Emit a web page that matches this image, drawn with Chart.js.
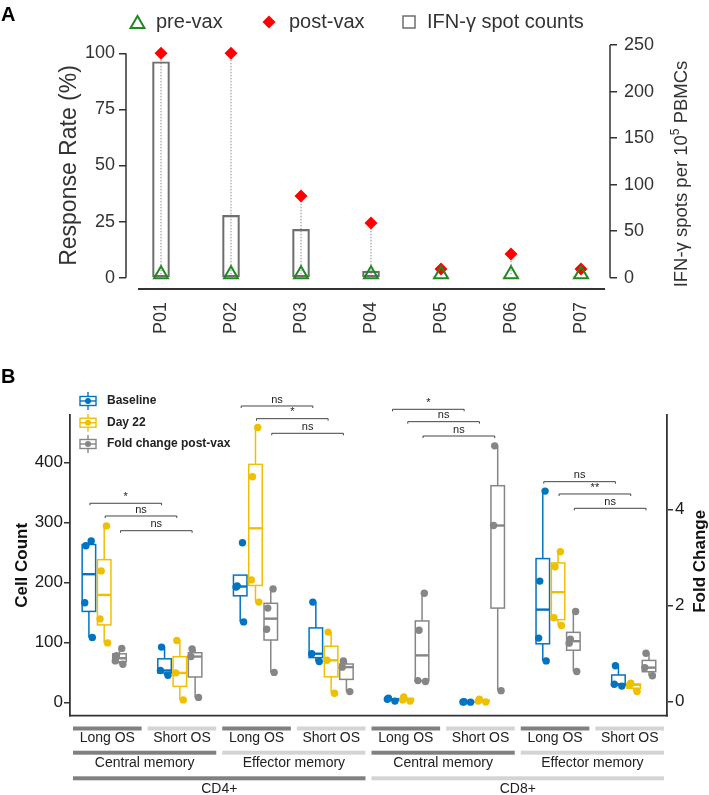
<!DOCTYPE html>
<html><head><meta charset="utf-8">
<script src="https://cdn.jsdelivr.net/npm/chart.js@4.4.0/dist/chart.umd.min.js"></script>
<style>
html,body{margin:0;padding:0;background:#fff;width:709px;height:795px;overflow:hidden}
canvas{position:absolute;left:0}
#a{top:0;width:709px;height:350px}
#b{top:350px;width:709px;height:445px}
</style></head>
<body>
<canvas id="a" width="709" height="350"></canvas>
<canvas id="b" width="709" height="445"></canvas>
<script>
const FONT = "'Liberation Sans', Arial, Helvetica, sans-serif";

// ---------- Panel A data ----------
const patients   = ['P01','P02','P03','P04','P05','P06','P07'];
const preVax     = [1.5, 1.5, 1.5, 1.5, 1.5, 1.5, 1.5];      // response rate (%)
const postVax    = [100, 100, 36.4, 24.4, 3.9, 10.6, 3.9];   // response rate (%)
const spotCounts = [232, 67, 52, 7, 1, 1, 1];                // IFN-γ spots per 10^5 PBMCs
const rateTicks  = [0, 25, 50, 75, 100];
const spotTicks  = [0, 50, 100, 150, 200, 250];

// ---------- Panel B data ----------
const subsetLabels  = ['Long OS','Short OS','Long OS','Short OS','Long OS','Short OS','Long OS','Short OS'];
const memoryLabels  = ['Central memory','Effector memory','Central memory','Effector memory'];
const lineageLabels = ['CD4+','CD8+'];
const seriesNames   = ['Baseline','Day 22','Fold change post-vax'];
const baseline   = [[108,166,261,269],[45,53,92],[134,192,194,266],[68,81,167],[2,5,7],[0.3,0.5,1],[69,107,202,352],[27,30,61]];
const day22      = [[99,139,219,294],[4,49,103],[167,204,376,458],[15,70,117],[2,4,9],[0.5,2,5],[128,141,226,251],[18,29,32]];
const foldChange = [[0.78,0.85,0.96,1.11],[0.09,0.94,1.1],[0.61,1.51,1.95,2.35],[0.21,0.72,0.85],[0.42,0.44,1.49,2.26],[0.23,3.67,5.33],[0.63,1.22,1.30,1.88],[0.54,0.71,1.01]];
const countTicks = [0, 100, 200, 300, 400];
const foldTicks  = [0, 2, 4];
const sigFirstGroup = [0, 2, 4, 6];
const sigLabels = [['*','ns','ns'],['ns','*','ns'],['*','ns','ns'],['ns','**','ns']];
const sigLevels = [[331.7,310.5,286],[493.8,472.7,448.3],[488.3,467.7,443.8],[367.7,347.2,323.3]];

// ---------- helpers ----------
function quantile(s, p){ const h=(s.length-1)*p, lo=Math.floor(h), hi=Math.min(lo+1,s.length-1); return s[lo]+(h-lo)*(s[hi]-s[lo]); }
function boxStats(vals){
  const s=[...vals].sort((a,b)=>a-b);
  const q1=quantile(s,.25), med=quantile(s,.5), q3=quantile(s,.75), iqr=q3-q1;
  const inside=s.filter(v=>v>=q1-1.5*iqr && v<=q3+1.5*iqr);
  return {q1,med,q3,lo:inside[0],hi:inside[inside.length-1]};
}
function line(ctx,x1,y1,x2,y2){ ctx.beginPath(); ctx.moveTo(x1,y1); ctx.lineTo(x2,y2); ctx.stroke(); }
function triangle(ctx,x,y,r){ ctx.beginPath(); for(let k=0;k<3;k++){const a=k*2*Math.PI/3; const px=x+Math.sin(a)*r, py=y-Math.cos(a)*r; k?ctx.lineTo(px,py):ctx.moveTo(px,py);} ctx.closePath(); }
function diamond(ctx,x,y,r){ ctx.beginPath(); ctx.moveTo(x-r,y); ctx.lineTo(x,y-r); ctx.lineTo(x+r,y); ctx.lineTo(x,y+r); ctx.closePath(); }
function vText(ctx,text,x,y){ ctx.save(); ctx.translate(x,y); ctx.rotate(-Math.PI/2); ctx.textAlign='center'; ctx.textBaseline='middle'; ctx.fillText(text,0,0); ctx.restore(); }

const GREEN='#1f8a1f', RED='#ff0000', BARC='#6e6e6e', INK='#333';

// ================= PANEL A =================
const plugA = {
  id:'plugA',
  beforeDatasetsDraw(chart){
    const {ctx, scales:{x,y}} = chart;
    ctx.save(); ctx.strokeStyle='#8c8c8c'; ctx.lineWidth=1; ctx.setLineDash([1.5,1.5]);
    patients.forEach((p,i)=>{ const px=x.getPixelForValue(i+1); line(ctx,px,y.getPixelForValue(preVax[i]),px,y.getPixelForValue(postVax[i])); });
    ctx.restore();
  },
  afterDraw(chart){
    const {ctx, chartArea:ca, scales:{x,y,yR}} = chart;
    ctx.save();
    ctx.strokeStyle=INK; ctx.lineWidth=1.5;
    line(ctx,ca.left,y.getPixelForValue(0),ca.left,y.getPixelForValue(100));
    line(ctx,ca.right,yR.getPixelForValue(0),ca.right,yR.getPixelForValue(250));
    ctx.lineWidth=2;
    line(ctx,x.getPixelForValue(0.671),ca.bottom,x.getPixelForValue(7.343),ca.bottom);
    // panel letter
    ctx.fillStyle='#000'; ctx.font="bold 20px "+FONT; ctx.textAlign='left'; ctx.textBaseline='middle';
    ctx.fillText('A',1,15);
    // legend
    const ly=22;
    ctx.font="20px "+FONT; ctx.fillStyle=INK;
    ctx.strokeStyle=GREEN; ctx.lineWidth=2; triangle(ctx,137.5,ly+2,8); ctx.stroke();
    ctx.fillText('pre-vax',156,ly);
    ctx.fillStyle=RED; diamond(ctx,269,ly,6.5); ctx.fill();
    ctx.fillStyle=INK; ctx.fillText('post-vax',289,ly);
    ctx.strokeStyle=BARC; ctx.lineWidth=1.5; ctx.strokeRect(403,ly-6,12,12);
    ctx.fillText('IFN-γ spot counts',427,ly);
    // axis titles
    ctx.font="23px "+FONT; vText(ctx,'Response Rate (%)',70,(y.getPixelForValue(0)+y.getPixelForValue(100))/2);
    // right title with superscript
    ctx.save(); ctx.translate(682,174); ctx.rotate(-Math.PI/2); ctx.textBaseline='middle'; ctx.textAlign='left';
    const f1="18.5px "+FONT, f2="12px "+FONT;
    const p1='IFN-γ spots per 10', p2='5', p3=' PBMCs';
    ctx.font=f1; const w1=ctx.measureText(p1).width, w3=ctx.measureText(p3).width;
    ctx.font=f2; const w2=ctx.measureText(p2).width;
    let sx=-(w1+w2+w3)/2;
    ctx.font=f1; ctx.fillText(p1,sx,0); sx+=w1;
    ctx.font=f2; ctx.fillText(p2,sx,-6); sx+=w2;
    ctx.font=f1; ctx.fillText(p3,sx,0);
    ctx.restore();
    ctx.restore();
  }
};

new Chart(document.getElementById('a'), {
  data:{ datasets:[
    {type:'bar', label:'IFN-γ spot counts', yAxisID:'yR', xAxisID:'x', order:3,
     data: patients.map((p,i)=>({x:i+1,y:spotCounts[i]})),
     backgroundColor:'rgba(0,0,0,0)', borderColor:BARC, borderWidth:1.5, borderSkipped:false, barThickness:17},
    {type:'scatter', label:'post-vax', yAxisID:'y', xAxisID:'x', order:2,
     data: patients.map((p,i)=>({x:i+1,y:postVax[i]})),
     pointStyle:'rectRot', pointRadius:6.5, backgroundColor:RED, borderColor:RED, borderWidth:0},
    {type:'scatter', label:'pre-vax', yAxisID:'y', xAxisID:'x', order:1,
     data: patients.map((p,i)=>({x:i+1,y:preVax[i]})),
     pointStyle:'triangle', pointRadius:8, backgroundColor:'rgba(255,255,255,0)', borderColor:GREEN, borderWidth:2}
  ]},
  options:{
    responsive:false, animation:false, events:[],
    layout:{padding:{top:45,left:0,right:0,bottom:0}},
    plugins:{legend:{display:false}, tooltip:{enabled:false}},
    scales:{
      x:{type:'linear', position:'bottom', min:0.5, max:7.414, offset:false,
         afterBuildTicks:s=>{s.ticks=patients.map((p,i)=>({value:i+1}));},
         afterFit:s=>{s.height=61;},
         grid:{display:false, drawTicks:false, offset:false}, border:{display:false},
         ticks:{autoSkip:false, minRotation:90, maxRotation:90, padding:13, color:INK, font:{family:FONT,size:18}, callback:(v)=>patients[Math.round(v)-1]}},
      y:{type:'linear', position:'left', min:-5.036, max:103.7,
         afterBuildTicks:s=>{s.ticks=rateTicks.map(v=>({value:v}));},
         afterFit:s=>{s.width=126;},
         grid:{drawOnChartArea:false, drawTicks:true, tickLength:7, color:INK, lineWidth:1.5}, border:{display:false},
         ticks:{padding:4, color:INK, font:{family:FONT,size:18}}},
      yR:{type:'linear', position:'right', min:-12.14, max:250,
         afterBuildTicks:s=>{s.ticks=spotTicks.map(v=>({value:v}));},
         afterFit:s=>{s.width=99;},
         grid:{drawOnChartArea:false, drawTicks:true, tickLength:7, color:INK, lineWidth:1.5}, border:{display:false},
         ticks:{padding:7, color:INK, font:{family:FONT,size:18}}}
    }
  },
  plugins:[plugA]
});

// ================= PANEL B =================
const BLUE='#0073C2', YEL='#EFC000', GRAY='#868686';
const SERIES=[
  {vals:baseline,   color:BLUE, axis:'y',  off:-0.202},
  {vals:day22,      color:YEL,  axis:'y',  off:0},
  {vals:foldChange, color:GRAY, axis:'yR', off:0.202}
];
const JIT=[0.045,-0.055,-0.04,0.03];
function pointsFor(s){
  const out=[];
  s.vals.forEach((vals,g)=>{ [...vals].sort((a,b)=>a-b).forEach((v,k)=>out.push({x:g+1+s.off+JIT[k%4],y:v})); });
  return out;
}
const HW=6.75;
const plugB={
  id:'plugB',
  beforeDatasetsDraw(chart){
    const {ctx, scales} = chart; const xs=scales.x;
    ctx.save();
    SERIES.forEach(s=>{
      const ys=scales[s.axis];
      s.vals.forEach((vals,g)=>{
        const st=boxStats(vals); const cx=xs.getPixelForValue(g+1+s.off);
        const y1=ys.getPixelForValue(st.q1), y3=ys.getPixelForValue(st.q3), ym=ys.getPixelForValue(st.med);
        ctx.strokeStyle=s.color; ctx.lineWidth=1.5;
        line(ctx,cx,ys.getPixelForValue(st.hi),cx,y3);
        line(ctx,cx,y1,cx,ys.getPixelForValue(st.lo));
        ctx.fillStyle='#fff'; ctx.fillRect(cx-HW,y3,2*HW,y1-y3); ctx.strokeRect(cx-HW,y3,2*HW,y1-y3);
        ctx.lineWidth=2.4; line(ctx,cx-HW,ym,cx+HW,ym);
      });
    });
    ctx.restore();
  },
  afterDraw(chart){
    const {ctx, chartArea:ca, scales:{x,y,yR}} = chart;
    ctx.save();
    ctx.strokeStyle=INK; ctx.lineWidth=1.8; line(ctx,ca.left-0.9,ca.bottom,ca.right+0.9,ca.bottom);
    ctx.lineWidth=1; ctx.strokeStyle='#444'; ctx.fillStyle='#222'; ctx.font="11px "+FONT; ctx.textAlign='center'; ctx.textBaseline='bottom';
    sigFirstGroup.forEach((g,c)=>{
      SERIES.forEach((s,k)=>{
        const xa=x.getPixelForValue(g+1+s.off)+1, xb=x.getPixelForValue(g+2+s.off)-3, yy=y.getPixelForValue(sigLevels[c][k]);
        ctx.beginPath(); ctx.moveTo(xa,yy+2); ctx.lineTo(xa,yy); ctx.lineTo(xb,yy); ctx.lineTo(xb,yy+2); ctx.stroke();
        ctx.fillText(sigLabels[c][k],(xa+xb)/2,yy-1);
      });
    });
    ctx.textAlign='left'; ctx.textBaseline='middle'; ctx.font="bold 12px "+FONT;
    [51,72.7,94].forEach((ly,k)=>{
      const c=SERIES[k].color, cx=88;
      ctx.strokeStyle=c; ctx.lineWidth=1.4;
      line(ctx,cx,ly-9,cx,ly-4.5); line(ctx,cx,ly+4.5,cx,ly+9);
      ctx.strokeRect(cx-8,ly-4.5,16,9); line(ctx,cx-8,ly,cx+8,ly);
      ctx.fillStyle=c; ctx.beginPath(); ctx.arc(cx,ly,3,0,Math.PI*2); ctx.fill();
      ctx.fillStyle='#222'; ctx.fillText(seriesNames[k],107,ly);
    });
    const W=ca.right-ca.left, DARK='#808080', LIGHT='#d4d4d4';
    ctx.font="14px "+FONT; ctx.textAlign='center'; ctx.fillStyle='#222';
    const strip=(n,labels,sy,ty,colors)=>{
      const w=W/n;
      labels.forEach((lab,i)=>{
        const x0=ca.left+i*w+3, x1=ca.left+(i+1)*w-3;
        ctx.fillStyle=colors[i%2]; ctx.fillRect(x0,sy-2,x1-x0,4);
        ctx.fillStyle='#222'; ctx.fillText(lab,(x0+x1)/2,ty);
      });
    };
    strip(8,subsetLabels,378.5,388,[DARK,LIGHT]);
    strip(4,memoryLabels,402.7,413.3,[DARK,LIGHT]);
    strip(2,lineageLabels,428.3,439,[DARK,LIGHT]);
    ctx.fillStyle='#111'; ctx.font="bold 17px "+FONT;
    const my=(ca.top+ca.bottom)/2;
    vText(ctx,'Cell Count',22,my);
    vText(ctx,'Fold Change',700,my-4);
    ctx.fillStyle='#000'; ctx.font="bold 20px "+FONT; ctx.textAlign='left';
    ctx.fillText('B',1,27.5);
    ctx.restore();
  }
};

new Chart(document.getElementById('b'), {
  type:'scatter',
  data:{ datasets: SERIES.map((s,k)=>({
    label:seriesNames[k], yAxisID:s.axis, xAxisID:'x', data:pointsFor(s),
    pointRadius:3.7, backgroundColor:s.color, borderWidth:0, pointStyle:'circle'
  }))},
  options:{
    responsive:false, animation:false, events:[],
    layout:{padding:{top:65,left:0,right:0,bottom:79.3}},
    plugins:{legend:{display:false}, tooltip:{enabled:false}},
    scales:{
      x:{type:'linear', display:false, min:0.548, max:8.44, offset:false},
      y:{type:'linear', position:'left', min:-22.3, max:478.8,
         afterBuildTicks:s=>{s.ticks=countTicks.map(v=>({value:v}));},
         afterFit:s=>{s.width=70;},
         grid:{drawOnChartArea:false, drawTicks:true, tickLength:6, color:INK, lineWidth:1.5},
         border:{display:true, color:INK, width:1.8},
         ticks:{padding:1, color:'#1a1a1a', font:{family:FONT,size:17}}},
      yR:{type:'linear', position:'right', min:-0.2917, max:5.973,
         afterBuildTicks:s=>{s.ticks=foldTicks.map(v=>({value:v}));},
         afterFit:s=>{s.width=42;},
         grid:{drawOnChartArea:false, drawTicks:true, tickLength:6, color:INK, lineWidth:1.5},
         border:{display:true, color:INK, width:1.8},
         ticks:{padding:2, color:'#1a1a1a', font:{family:FONT,size:17}}}
    }
  },
  plugins:[plugB]
});
</script>
</body></html>
